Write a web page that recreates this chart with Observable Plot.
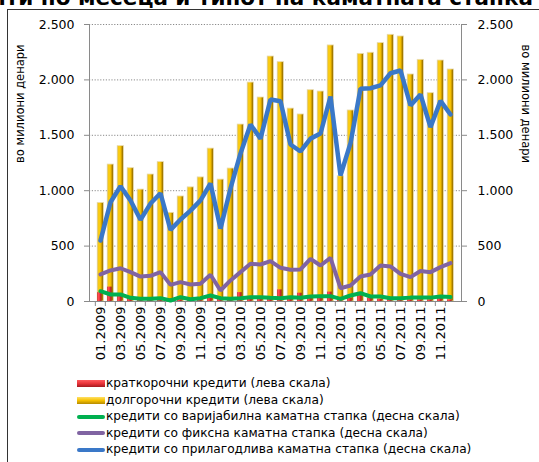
<!DOCTYPE html>
<html>
<head>
<meta charset="utf-8">
<script src="https://cdn.jsdelivr.net/npm/d3@7"></script>
<script src="https://cdn.jsdelivr.net/npm/@observablehq/plot@0.6"></script>
<style>
  html, body { margin: 0; padding: 0; background: #fff; }
  #wrap { position: relative; width: 539px; height: 462px; overflow: hidden; font-family: "DejaVu Sans", sans-serif; }
  #title { position: absolute; right: 6px; top: -13px; white-space: nowrap; font-weight: bold; font-size: 21.5px; line-height: 22px; color: #000; }
  #frameTop { position: absolute; left: 8px; top: 9px; width: 540px; height: 0; border-top: 1.5px solid #333; }
  #frameLeft { position: absolute; left: 7px; top: 9px; width: 0; height: 460px; border-left: 1.5px solid #333; }
  #chart { position: absolute; left: 0; top: 0; }
  #legend { position: absolute; left: 77px; top: 375px; font-size: 12.2px; color: #000; }
  .row { position: relative; height: 16.6px; line-height: 16.6px; white-space: nowrap; }
  .sw { position: absolute; left: 0; width: 28px; }
  .txt { position: absolute; left: 29px; top: 0; }
</style>
</head>
<body>
<div id="wrap">
  <div id="title">кредити по месеца и типот на каматната стапка</div>
  <div id="frameTop"></div>
  <div id="frameLeft"></div>
  <div id="chart"></div>
  <div id="legend"></div>
</div>
<script>
const months = ["01.2009","02.2009","03.2009","04.2009","05.2009","06.2009","07.2009","08.2009","09.2009","10.2009","11.2009","12.2009",
                "01.2010","02.2010","03.2010","04.2010","05.2010","06.2010","07.2010","08.2010","09.2010","10.2010","11.2010","12.2010",
                "01.2011","02.2011","03.2011","04.2011","05.2011","06.2011","07.2011","08.2011","09.2011","10.2011","11.2011","12.2011"];
const shortTerm = [80,130,60,30,20,20,20,25,15,20,20,30, 20,20,80,20,25,30,105,30,75,30,30,85, 20,30,55,30,20,20,20,15,15,15,30,15];
const longTerm  = [890,1236,1402,1203,1010,1146,1258,800,948,1030,1120,1380, 1100,1200,1597,1976,1841,2211,2160,1741,1688,1907,1895,2311, 1130,1724,2235,2245,2332,2407,2392,2049,2181,1880,2175,2094];
const variableRate   = [93,63,64,33,24,24,30,9,39,21,30,54, 30,24,30,39,39,33,30,39,33,45,48,48, 24,54,75,45,45,30,30,35,35,35,45,40];
const fixedRate      = [244,280,300,265,225,232,265,150,175,153,160,241, 99,190,265,340,334,364,304,286,289,385,325,394, 120,144,225,244,325,316,250,220,275,265,310,346];
const adjustableRate = [550,896,1040,912,737,884,977,647,740,820,912,1065, 658,1020,1336,1597,1470,1823,1808,1417,1354,1470,1516,1850, 1137,1430,1920,1925,1950,2060,2085,1769,1868,1573,1811,1688];
const yTicks = [0,500,1000,1500,2000,2500];
const axisTitle = "во милиони денари";
const legendItems = [
  {label: "краткорочни кредити (лева скала)", kind: "bar", color: "red"},
  {label: "долгорочни кредити (лева скала)", kind: "bar", color: "gold"},
  {label: "кредити со варијабилна  каматна стапка (десна скала)", kind: "line", color: "#00b050"},
  {label: "кредити со фиксна  каматна стапка (десна скала)", kind: "line", color: "#8064a2"},
  {label: "кредити со прилагодлива  каматна стапка (десна скала)", kind: "line", color: "#3a78c8"}
];

const data = months.map((m, i) => ({month: m, short: shortTerm[i], long: longTerm[i],
  variable: variableRate[i], fixed: fixedRate[i], adjustable: adjustableRate[i]}));

const fmt = d => d3.format(",")(d).replace(/,/g, ".");
const W = 539, H = 372, mL = 89, mR = 78, mT = 24, mB = 71;
const bw = (W - mL - mR) / months.length;

const plot = Plot.plot({
  width: W, height: H,
  marginTop: mT, marginBottom: mB, marginLeft: mL, marginRight: mR,
  x: {type: "band", domain: months, paddingInner: 0, paddingOuter: 0, axis: null},
  y: {domain: [0, 2500], axis: null},
  style: {fontFamily: "DejaVu Sans", fontSize: "12.5px", color: "#000", background: "transparent", overflow: "visible"},
  marks: [
    Plot.gridY(yTicks.slice(1), {stroke: "#8a8a8a", strokeOpacity: 1, strokeDasharray: "1.2,1.6", strokeWidth: 1}),
    Plot.barY(data, {x: "month", y: "long", fill: "url(#goldGrad)", stroke: "#eadcae", strokeWidth: 0.8, insetLeft: 2.2, insetRight: 1.6}),
    Plot.barY(data, {x: "month", y: "short", fill: "url(#redGrad)", insetLeft: 2.2, insetRight: 3.4}),
    Plot.frame({anchor: "left", stroke: "#8a8a8a"}),
    Plot.frame({anchor: "right", stroke: "#8a8a8a"}),
    Plot.frame({anchor: "bottom", stroke: "#8a8a8a"}),
    Plot.line(data, {x: "month", y: "variable", stroke: "#00b050", strokeWidth: 4, strokeLinejoin: "miter"}),
    Plot.line(data, {x: "month", y: "fixed", stroke: "#8064a2", strokeWidth: 4, strokeLinejoin: "miter"}),
    Plot.line(data, {x: "month", y: "adjustable", stroke: "#3a78c8", strokeWidth: 4.5, strokeLinejoin: "miter"}),
    Plot.axisY({anchor: "left", ticks: yTicks, tickSize: 5, tickPadding: 10, tickFormat: fmt, stroke: "#8a8a8a", label: null}),
    Plot.axisY({anchor: "right", ticks: yTicks, tickSize: 5, tickPadding: 11, tickFormat: fmt, stroke: "#8a8a8a", label: null}),
    Plot.axisX({ticks: months, tickSize: 5, tickFormat: () => "", stroke: "#8a8a8a", dx: -bw / 2, label: null}),
    Plot.axisX({ticks: months.filter((d, i) => i % 2 === 0), tickSize: 0, tickPadding: 5, tickRotate: -90, fontSize: 13, label: null}),
    Plot.text([axisTitle], {frameAnchor: "left", dx: -69, rotate: -90, fontSize: 11.5, text: d => d}),
    Plot.text([axisTitle], {frameAnchor: "right", dx: 64, rotate: 90, fontSize: 11.5, text: d => d})
  ]
});

const defs = d3.select(plot).insert("defs", ":first-child");
const g1 = defs.append("linearGradient").attr("id", "goldGrad").attr("x1", 0).attr("x2", 1).attr("y1", 0).attr("y2", 0);
[[0, "#c99a00"], [0.25, "#ffd21a"], [0.55, "#f5c000"], [0.78, "#b98b00"], [1, "#7a5a00"]].forEach(([o, c]) =>
  g1.append("stop").attr("offset", o).attr("stop-color", c));
const g2 = defs.append("linearGradient").attr("id", "redGrad").attr("x1", 0).attr("x2", 1).attr("y1", 0).attr("y2", 0);
[[0, "#c81e28"], [0.3, "#ff4a50"], [0.6, "#e8343a"], [1, "#8a1015"]].forEach(([o, c]) =>
  g2.append("stop").attr("offset", o).attr("stop-color", c));

document.getElementById("chart").appendChild(plot);

const legend = d3.select("#legend");
legendItems.forEach(it => {
  const row = legend.append("div").attr("class", "row");
  const sw = row.append("div").attr("class", "sw");
  if (it.kind === "bar") {
    sw.style("top", "5px").style("height", "7px")
      .style("background", it.color === "red"
        ? "linear-gradient(#ff5a5f, #e8343a 50%, #a51a20)"
        : "linear-gradient(#ffe066, #f5c000 50%, #b58a00)");
  } else {
    sw.style("top", "6.5px").style("height", "4px").style("border-radius", "2px").style("background", it.color);
  }
  row.append("div").attr("class", "txt").text(it.label);
});
</script>
</body>
</html>
